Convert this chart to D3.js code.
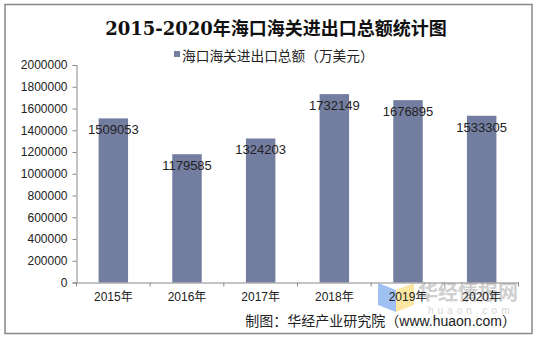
<!DOCTYPE html>
<html>
<head>
<meta charset="utf-8">
<script src="https://cdn.jsdelivr.net/npm/d3@7"></script>
<style>
  html, body { margin: 0; padding: 0; background: #fff; }
  svg { display: block; }
</style>
</head>
<body>
<svg id="chart" width="537" height="339"></svg>
<script>
// Haikou customs total import/export value, 10k USD
const years = ["2015年", "2016年", "2017年", "2018年", "2019年", "2020年"];
const totals = [1509053, 1179585, 1324203, 1732149, 1676895, 1533305];
const yTicks = [0, 200000, 400000, 600000, 800000, 1000000, 1200000, 1400000, 1600000, 1800000, 2000000];

const titleText = "2015-2020年海口海关进出口总额统计图";
const legendText = "海口海关进出口总额（万美元）";
const sourceText = "制图：华经产业研究院（www.huaon.com）";

const svg = d3.select("#chart");
const sans = "Arial, 'Liberation Sans', 'Noto Sans CJK SC', sans-serif";

// outer frame
svg.append("rect")
  .attr("x", 5).attr("y", 4.5).attr("width", 527).attr("height", 329)
  .attr("fill", "#fff").attr("stroke", "#888").attr("stroke-width", 1.5);

const plot = { left: 76.5, right: 518.5, top: 65, bottom: 282.5 };

const x = d3.scaleBand().domain(years).range([plot.left, plot.right]).paddingInner(0.6).paddingOuter(0.3);
const y = d3.scaleLinear().domain([0, 2000000]).range([plot.bottom, plot.top]);

// site watermark (logo + name)
const wm = svg.append("g");
wm.append("path").attr("d", "M378,283 L396,290 L396,312 L378,305 Z").attr("fill", "#9fc0f2");
wm.append("path").attr("d", "M396,290 L414,283 L414,305 L396,312 Z").attr("fill", "#fbe6a2");
wm.append("text").attr("x", 418).attr("y", 300).attr("font-size", 20).attr("font-weight", "bold")
  .attr("font-family", "'Noto Sans CJK SC', sans-serif").attr("fill", "#cfcfcf").text("华经情报网");
wm.append("text").attr("x", 428).attr("y", 314).attr("font-size", 10).attr("letter-spacing", 4)
  .attr("font-family", sans).attr("fill", "#d6d6d6").text("huaon.com");

// bars
svg.append("g").selectAll("rect").data(years).join("rect")
  .attr("x", d => x(d)).attr("width", x.bandwidth())
  .attr("y", (d, i) => y(totals[i]))
  .attr("height", (d, i) => y(0) - y(totals[i]))
  .attr("fill", "#737da0");

// value labels
svg.append("g").selectAll("text").data(years).join("text")
  .attr("x", d => x(d) + x.bandwidth() / 2)
  .attr("y", (d, i) => y(totals[i]) + 16)
  .attr("text-anchor", "middle")
  .attr("font-family", sans).attr("font-size", 13).attr("fill", "#222")
  .text((d, i) => totals[i]);

// y axis
const yAxis = svg.append("g").attr("transform", `translate(${plot.left},0)`)
  .call(d3.axisLeft(y).tickValues(yTicks).tickSize(4).tickPadding(5).tickFormat(d3.format("d")));
yAxis.select(".domain").attr("stroke", "#888");
yAxis.selectAll(".tick line").attr("stroke", "#888");
yAxis.selectAll("text").attr("font-family", sans).attr("font-size", 12).attr("fill", "#222");

// x axis with tick marks on category boundaries
const xAxis = svg.append("g").attr("transform", `translate(0,${plot.bottom})`)
  .call(d3.axisBottom(x).tickSize(0).tickPadding(10));
xAxis.select(".domain").attr("stroke", "#888");
xAxis.selectAll("text").attr("font-family", sans).attr("font-size", 12).attr("fill", "#222");
const edges = d3.range(years.length + 1).map(i => plot.left + i * (plot.right - plot.left) / years.length);
xAxis.selectAll(".edge").data(edges).join("line")
  .attr("x1", d => d).attr("x2", d => d).attr("y1", 0).attr("y2", 4).attr("stroke", "#888");

// title
svg.append("text").attr("x", 276).attr("y", 35).attr("text-anchor", "middle")
  .attr("font-family", "'DejaVu Serif', 'Liberation Serif', 'Noto Sans CJK SC', serif")
  .attr("font-size", 18).attr("font-weight", "bold").attr("fill", "#111")
  .text(titleText);

// legend
svg.append("rect").attr("x", 174).attr("y", 51).attr("width", 6).attr("height", 6).attr("fill", "#737da0");
svg.append("text").attr("x", 182).attr("y", 60.5)
  .attr("font-family", sans).attr("font-size", 13.7).attr("fill", "#222").text(legendText);

// source note
svg.append("text").attr("x", 516).attr("y", 326).attr("text-anchor", "end")
  .attr("font-family", sans).attr("font-size", 14).attr("fill", "#222").text(sourceText);
</script>
</body>
</html>
